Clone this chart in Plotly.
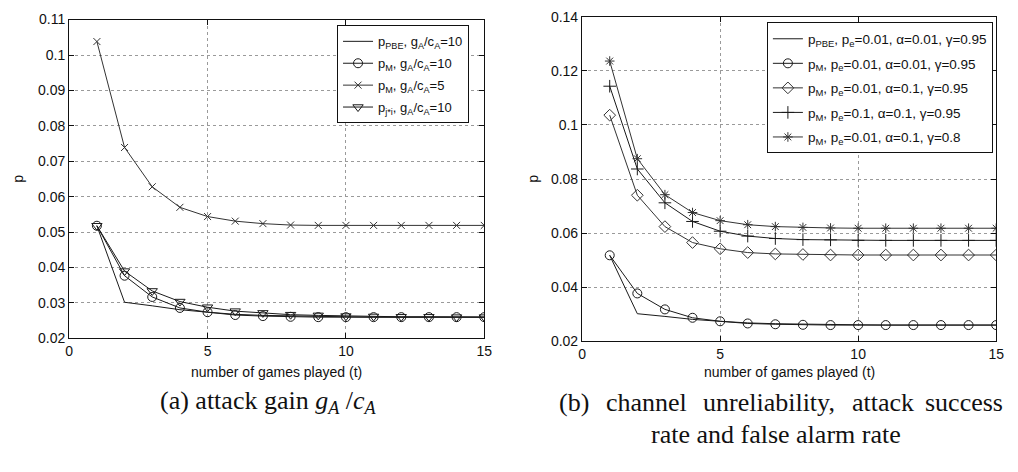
import plotly.graph_objects as go

# ---------------- data ----------------
t = list(range(1, 16))

# (a) attack gain
a_pbe_10 = [0.0518, 0.0302, 0.0292, 0.0281, 0.0274, 0.0268, 0.0265, 0.0263, 0.0262, 0.0261, 0.0260, 0.0260, 0.0260, 0.0260, 0.0260]
a_pm_10 = [0.0518, 0.0377, 0.0317, 0.0286, 0.0274, 0.0266, 0.0263, 0.0261, 0.0260, 0.0260, 0.0260, 0.0260, 0.0260, 0.0260, 0.0260]
a_pm_5 = [0.1038, 0.0739, 0.0628, 0.0570, 0.0544, 0.0531, 0.0524, 0.0520, 0.0519, 0.0519, 0.0519, 0.0519, 0.0519, 0.0519, 0.0519]
a_pji_10 = [0.0518, 0.0390, 0.0334, 0.0304, 0.0288, 0.0277, 0.0272, 0.0267, 0.0265, 0.0263, 0.0262, 0.0261, 0.0261, 0.0260, 0.0260]

# (b) channel unreliability etc.
b_pbe = [0.0518, 0.0302, 0.0292, 0.0281, 0.0274, 0.0268, 0.0265, 0.0263, 0.0262, 0.0261, 0.0260, 0.0260, 0.0260, 0.0260, 0.0260]
b_pm_001_001_095 = [0.0518, 0.0377, 0.0318, 0.0287, 0.0274, 0.0266, 0.0263, 0.0261, 0.0260, 0.0260, 0.0260, 0.0260, 0.0260, 0.0260, 0.0260]
b_pm_001_01_095 = [0.1036, 0.0740, 0.0624, 0.0565, 0.0542, 0.0528, 0.0523, 0.0521, 0.0519, 0.0519, 0.0519, 0.0519, 0.0519, 0.0519, 0.0519]
b_pm_01_01_095 = [0.1143, 0.0837, 0.0712, 0.0643, 0.0607, 0.0589, 0.0580, 0.0576, 0.0575, 0.0573, 0.0573, 0.0573, 0.0573, 0.0573, 0.0573]
b_pm_001_01_08 = [0.1236, 0.0875, 0.0742, 0.0676, 0.0646, 0.0631, 0.0624, 0.0621, 0.0619, 0.0618, 0.0618, 0.0618, 0.0618, 0.0618, 0.0618]

a_names = ["p<sub>PBE</sub>, g<sub>A</sub>/c<sub>A</sub>=10",
           "p<sub>M</sub>, g<sub>A</sub>/c<sub>A</sub>=10",
           "p<sub>M</sub>, g<sub>A</sub>/c<sub>A</sub>=5",
           "p<sub>j*i</sub>, g<sub>A</sub>/c<sub>A</sub>=10"]
b_names = ["p<sub>PBE</sub>, p<sub>e</sub>=0.01, α=0.01, γ=0.95",
           "p<sub>M</sub>, p<sub>e</sub>=0.01, α=0.01, γ=0.95",
           "p<sub>M</sub>, p<sub>e</sub>=0.01, α=0.1, γ=0.95",
           "p<sub>M</sub>, p<sub>e</sub>=0.1, α=0.1, γ=0.95",
           "p<sub>M</sub>, p<sub>e</sub>=0.01, α=0.1, γ=0.8"]

a_yticks = [0.02, 0.03, 0.04, 0.05, 0.06, 0.07, 0.08, 0.09, 0.10, 0.11]
a_yticktext = ["0.02", "0.03", "0.04", "0.05", "0.06", "0.07", "0.08", "0.09", "0.1", "0.11"]
b_yticks = [0.02, 0.04, 0.06, 0.08, 0.10, 0.12, 0.14]
b_yticktext = ["0.02", "0.04", "0.06", "0.08", "0.1", "0.12", "0.14"]
xticks = [0, 5, 10, 15]

x_title = "number of games played (t)"
y_title = "p"
cap_a = "(a) attack gain <i>g<sub>A</sub></i> /<i>c<sub>A</sub></i>"
cap_b1_words = ["(b)", "channel", "unreliability,", "attack", "success"]
cap_b2 = "rate and false alarm rate"

# ---------------- figure ----------------
W, H = 1018, 472
fig = go.Figure()

def add(x, y, name, symbol, xa, ya, leg, grp, color="#1a1a1a", size=8):
    mode = "lines" if symbol is None else "lines+markers"
    fig.add_trace(go.Scatter(
        x=x, y=y, name=name, mode=mode, xaxis=xa, yaxis=ya, legend=leg, legendgroup=grp,
        line=dict(color=color, width=1),
        marker=dict(symbol=symbol if symbol else "circle", size=size, color=color,
                    line=dict(color=color, width=1)),
    ))

add(t, a_pbe_10, a_names[0], None, "x", "y", "legend", "a0")
add(t, a_pm_10, a_names[1], "circle-open", "x", "y", "legend", "a1", size=9)
add(t, a_pm_5, a_names[2], "x-thin-open", "x", "y", "legend", "a2", color="#333333", size=7)
add(t, a_pji_10, a_names[3], "triangle-down-open", "x", "y", "legend", "a3", size=9)

add(t, b_pbe, b_names[0], None, "x2", "y2", "legend2", "b0")
add(t, b_pm_001_001_095, b_names[1], "circle-open", "x2", "y2", "legend2", "b1", size=9)
add(t, b_pm_001_01_095, b_names[2], "diamond-open", "x2", "y2", "legend2", "b2", color="#333333", size=9)
add(t, b_pm_01_01_095, b_names[3], "cross-thin-open", "x2", "y2", "legend2", "b3", size=9)
add(t, b_pm_001_01_08, b_names[4], "asterisk-open", "x2", "y2", "legend2", "b4", color="#333333", size=8)

tickfont = dict(family="Liberation Sans, Arial, sans-serif", size=14, color="#111")
axis_common = dict(
    showline=True, linecolor="#111", linewidth=1.3, mirror="ticks",
    ticks="inside", ticklen=5, tickcolor="#111",
    showgrid=True, gridcolor="#9a9a9a", griddash="dot", gridwidth=1,
    zeroline=False, tickfont=tickfont,
)

fig.update_layout(
    width=W, height=H,
    margin=dict(l=0, r=0, t=0, b=0),
    paper_bgcolor="white", plot_bgcolor="white",
    showlegend=True,
    xaxis=dict(domain=[66 / W, 486 / W], range=[0, 15], tickvals=xticks, anchor="y", **axis_common),
    yaxis=dict(domain=[1 - 342 / H, 1 - 12 / H], range=[0.02, 0.11], tickvals=a_yticks,
               ticktext=a_yticktext, anchor="x", **axis_common),
    xaxis2=dict(domain=[585 / W, 1004 / W], range=[0, 15], tickvals=xticks, anchor="y2", **axis_common),
    yaxis2=dict(domain=[1 - 345 / H, 1 - 9 / H], range=[0.02, 0.14], tickvals=b_yticks,
                ticktext=b_yticktext, anchor="x2", **axis_common),
    legend=dict(x=337 / W, y=1 - 18 / H, xanchor="left", yanchor="top",
                bgcolor="white", bordercolor="#111", borderwidth=1,
                font=dict(family="Liberation Sans, Arial, sans-serif", size=13, color="#111"),
                tracegroupgap=2, itemwidth=30),
    legend2=dict(x=772 / W, y=1 - 15 / H, xanchor="left", yanchor="top",
                 bgcolor="white", bordercolor="#111", borderwidth=1,
                 font=dict(family="Liberation Sans, Arial, sans-serif", size=13.5, color="#111"),
                 tracegroupgap=4, itemwidth=30),
)

ann_font = dict(family="Liberation Sans, Arial, sans-serif", size=14, color="#111")
cap_font = dict(family="Liberation Serif, Times New Roman, serif", size=26, color="#111")
annotations = [
    dict(x=276 / W, y=1 - 377 / H, text=x_title, font=ann_font, xanchor="center"),
    dict(x=795 / W, y=1 - 377 / H, text=x_title, font=ann_font, xanchor="center"),
    dict(x=14 / W, y=1 - 177 / H, text=y_title, font=ann_font, textangle=-90, xanchor="center"),
    dict(x=535 / W, y=1 - 177 / H, text=y_title, font=ann_font, textangle=-90, xanchor="center"),
    dict(x=268 / W, y=1 - 408 / H, text=cap_a, font=cap_font, xanchor="center"),
    dict(x=781 / W, y=1 - 441 / H, text=cap_b2, font=cap_font, xanchor="center"),
]
# justified first caption line of (b)
word_x = [560, 607, 705, 856, 1013]
for i, (w, xw) in enumerate(zip(cap_b1_words, word_x)):
    anchor = "right" if i == len(cap_b1_words) - 1 else "left"
    annotations.append(dict(x=xw / W, y=1 - 408 / H, text=w, font=cap_font, xanchor=anchor))
for a in annotations:
    a.update(xref="paper", yref="paper", showarrow=False, yanchor="middle")
fig.update_layout(annotations=annotations)

fig.write_html("out.html")
